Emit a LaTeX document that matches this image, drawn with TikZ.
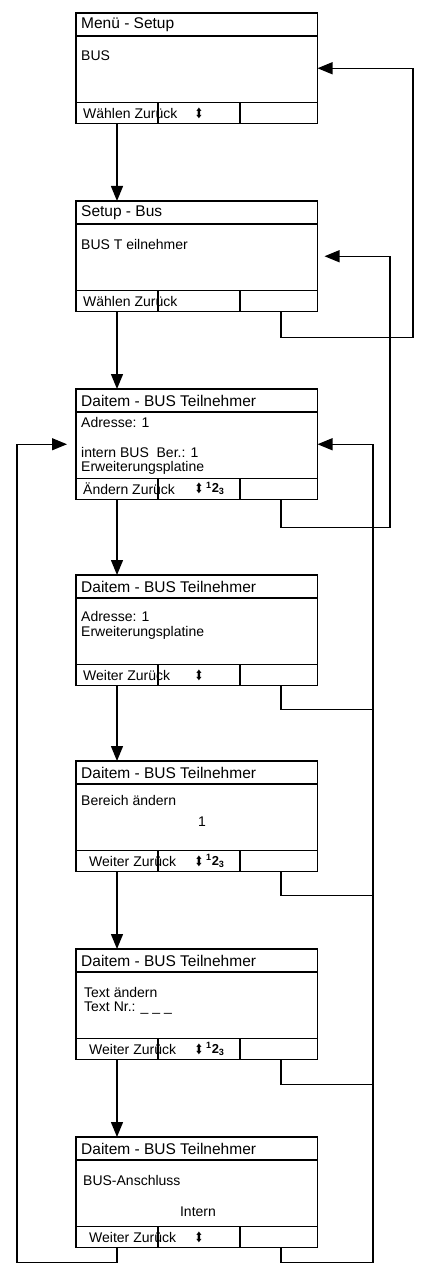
\documentclass[tikz,border=0pt]{standalone}
\usepackage{fontspec}
\setmainfont{Liberation Sans}
\newfontfamily\symbolfont{DejaVu Sans}
\usetikzlibrary{arrows.meta}

\begin{document}
\begin{tikzpicture}[x=1pt,y=-1pt]
        \tikzset{Screen/.style={draw, line width=1.8pt, minimum width=241.5pt, minimum height=110.5pt, inner sep=0pt, outer sep=0pt, anchor=north west}}
        \tikzset{Frame/.style={line width=1.8pt}}
        \tikzset{Label/.style={anchor=west, inner sep=0pt, font=\fontsize{14}{16}\selectfont}}
        \tikzset{Head/.style={Label, font=\fontsize{15.5}{17}\selectfont}}
        \tikzset{Updown/.style={inner sep=0pt, xscale=0.75, font=\symbolfont\fontsize{14}{14}\selectfont}}
        \tikzset{Digits/.style={anchor=west, inner sep=0pt, font=\fontsize{13}{13}\selectfont\bfseries}}
        \tikzset{Link/.style={line width=1.3pt, -{Triangle[length=15pt,width=12pt]}}}
        \tikzset{Line/.style={line width=1.3pt}}

        \useasboundingbox (0,0) rectangle (420,1268);

        \coordinate (Spine) at (117,0);
        \coordinate (Tap)   at (281,0);
        \coordinate (RailA) at (413,0);
        \coordinate (RailB) at (390,0);
        \coordinate (RailC) at (373,0);
        \coordinate (RailL) at (17,0);

        \node[Screen] (S1) at (76,13)   {};
        \node[Screen] (S2) at (76,201)  {};
        \node[Screen] (S3) at (76,389)  {};
        \node[Screen] (S4) at (76,575)  {};
        \node[Screen] (S5) at (76,761)  {};
        \node[Screen] (S6) at (76,949)  {};
        \node[Screen] (S7) at (76,1137) {};

        \foreach \s in {S1,S2,S3,S4,S5,S6,S7} {
            \draw[Frame] ([yshift=-23pt]\s.north west) -- ([yshift=-23pt]\s.north east);
            \draw[Frame] ([yshift=21pt]\s.south west) -- ([yshift=21pt]\s.south east);
            \draw[Frame] ([shift={(82pt,21pt)}]\s.south west) -- ([xshift=82pt]\s.south west);
            \draw[Frame] ([shift={(164pt,21pt)}]\s.south west) -- ([xshift=164pt]\s.south west);
        }

        \node[Head] (T1) at (81,24.5)   {Menü - Setup};
        \node[Head] (T2) at (81,212.5)  {Setup - Bus};
        \node[Head] (T3) at (81,400.5)  {Daitem - BUS Teilnehmer};
        \node[Head] (T4) at (81,586.5)  {Daitem - BUS Teilnehmer};
        \node[Head] (T5) at (81,772.5)  {Daitem - BUS Teilnehmer};
        \node[Head] (T6) at (81,960.5)  {Daitem - BUS Teilnehmer};
        \node[Head] (T7) at (81,1148.5) {Daitem - BUS Teilnehmer};

        \node[Label] (B1)  at (81,56)   {BUS};
        \node[Label] (B2)  at (81,244)  {BUS T eilnehmer};
        \node[Label] (B3a) at (81,422)  {Adresse: 1};
        \node[Label] (B3b) at (81,452)  {intern BUS\ \ Ber.: 1};
        \node[Label] (B3c) at (81,468)  {Erweiterungsplatine};
        \node[Label] (B4a) at (81,616)  {Adresse: 1};
        \node[Label] (B4b) at (81,633)  {Erweiterungsplatine};
        \node[Label] (B5a) at (81,800)  {Bereich ändern};
        \node[Label, anchor=center] (B5b) at (202,822) {1};
        \node[Label] (B6a) at (84,992)  {Text ändern};
        \node[Label] (B6b) at (84,1008) {Text Nr.: \_ \_ \_};
        \node[Label] (B7a) at (83,1180) {BUS-Anschluss};
        \node[Label, anchor=center] (B7b) at (198,1212) {Intern};

        \node[Label] (F1) at (83,113.5) {Wählen Zurück};
        \node[Label] (F2) at (83,301.5) {Wählen Zurück};
        \node[Label] (F3) at (83,488.5) {Ändern Zurück};
        \node[Label] (F4) at (83,675)   {Weiter Zurück};
        \node[Label] (F5) at (89,861)   {Weiter Zurück};
        \node[Label] (F6) at (89,1049)  {Weiter Zurück};
        \node[Label] (F7) at (89,1237)  {Weiter Zurück};

        \node[Updown] (U1) at (199,113.5) {⬍};
        \node[Updown] (U3) at (199,488.5) {⬍};
        \node[Updown] (U4) at (199,675)   {⬍};
        \node[Updown] (U5) at (199,861)   {⬍};
        \node[Updown] (U6) at (199,1049)  {⬍};
        \node[Updown] (U7) at (199,1237)  {⬍};

        \node[Digits] (D3) at (206,488.5) {\textsuperscript{1}2\textsubscript{3}};
        \node[Digits] (D5) at (206,861)   {\textsuperscript{1}2\textsubscript{3}};
        \node[Digits] (D6) at (206,1049)  {\textsuperscript{1}2\textsubscript{3}};

        \draw[Link] (S1.south -| Spine) -- (S2.north -| Spine);
        \draw[Link] (S2.south -| Spine) -- (S3.north -| Spine);
        \draw[Link] (S3.south -| Spine) -- (S4.north -| Spine);
        \draw[Link] (S4.south -| Spine) -- (S5.north -| Spine);
        \draw[Link] (S5.south -| Spine) -- (S6.north -| Spine);
        \draw[Link] (S6.south -| Spine) -- (S7.north -| Spine);

        \draw[Link] (S2.south -| Tap) -- ++(0,26) -| (RailA |- S1.east) -- (S1.east);
        \draw[Link] (S3.south -| Tap) -- ++(0,28) -| (RailB |- S2.east) -- ([xshift=7pt]S2.east);

        \draw[Line] (S4.south -| Tap) -- ++(0,24) coordinate (J4) -- (J4 -| RailC);
        \draw[Line] (S5.south -| Tap) -- ++(0,24) coordinate (J5) -- (J5 -| RailC);
        \draw[Line] (S6.south -| Tap) -- ++(0,25) coordinate (J6) -- (J6 -| RailC);
        \draw[Link] (S7.south -| Tap) -- ++(0,15) -| (RailC |- S3.east) -- (S3.east);

        \draw[Link] (S7.south -| Spine) -- ++(0,15) -| (RailL |- S3.west) -- ([xshift=-9pt]S3.west);
\end{tikzpicture}
\end{document}
